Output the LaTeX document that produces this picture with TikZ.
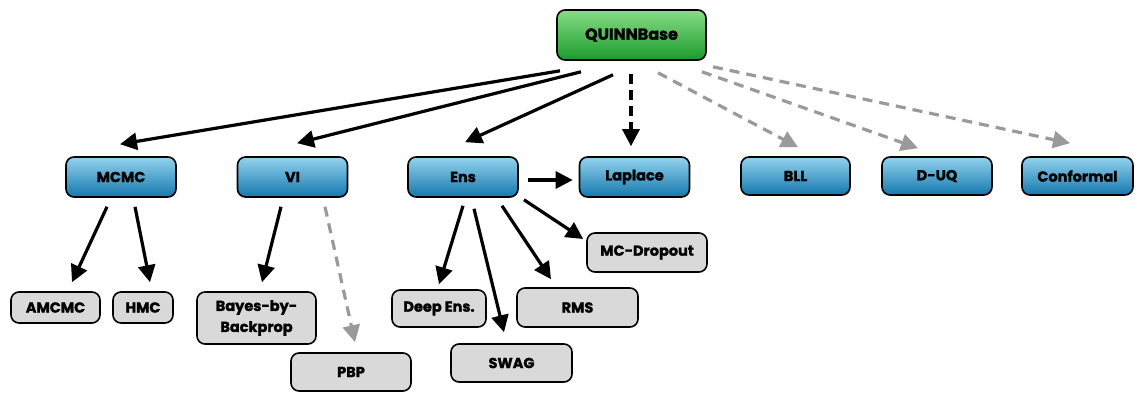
\documentclass[tikz,border=0pt]{standalone}
\usepackage{fontspec}
\setmainfont{Poppins}[BoldFeatures={FakeBold=1.6}]
\usetikzlibrary{arrows.meta,calc}
\definecolor{bluetop}{HTML}{93D3EE}
\definecolor{bluebot}{HTML}{1478AD}
\definecolor{greentop}{HTML}{86DE86}
\definecolor{greenbot}{HTML}{1C9A2C}
\definecolor{graybox}{HTML}{D9D9D9}
\definecolor{grayarrow}{HTML}{9A9A9A}
\begin{document}
\begin{tikzpicture}[x=1pt,y=-1pt,
  box/.style={draw=black,line width=1.6pt,rounded corners=8pt,inner sep=2pt,align=center,font=\fontsize{14.5}{21}\selectfont\bfseries},
  bluebox/.style={box,top color=bluetop,bottom color=bluebot,minimum width=110pt,minimum height=40pt},
  greenbox/.style={box,top color=greentop,bottom color=greenbot,minimum width=149pt,minimum height=50pt,font=\fontsize{16}{18}\selectfont\bfseries},
  leafbox/.style={box,fill=graybox},
  arr/.style={line width=3.2pt,-{Triangle[length=17pt,width=17pt]}},
  darr/.style={arr,dash pattern=on 10pt off 6pt},
  garr/.style={arr,color=grayarrow,dash pattern=on 10pt off 7pt}
]
\useasboundingbox (0,0) rectangle (1144,402);
% top
\node[greenbox] (Q) at (631.5,35) {QUINNBase};
% middle row
\node[bluebox] (MCMC) at (121,177) {MCMC};
\node[bluebox] (VI) at (292.5,177) {VI};
\node[bluebox] (Ens) at (463,177) {Ens};
\node[bluebox] (Lap) at (634.5,177) {Laplace};
\node[bluebox,minimum width=109pt,minimum height=38pt] (BLL) at (795.5,176) {BLL};
\node[bluebox,minimum height=38pt] (DUQ) at (937,176) {D-UQ};
\node[bluebox,minimum width=111pt,minimum height=38pt] (Conf) at (1077.5,176) {Conformal};
% leaves
\node[leafbox,minimum width=89pt,minimum height=31pt] (AM) at (55.5,307.5) {AMCMC};
\node[leafbox,minimum width=60pt,minimum height=31pt] (HMC) at (143,307.5) {HMC};
\node[leafbox,minimum width=119pt,minimum height=52pt] (BBB) at (256.5,318) {Bayes-by-\\Backprop};
\node[leafbox,minimum width=120pt,minimum height=38pt] (PBP) at (351,372) {PBP};
\node[leafbox,minimum width=94pt,minimum height=37pt] (DE) at (439,308.5) {Deep Ens.};
\node[leafbox,minimum width=121pt,minimum height=39pt] (RMS) at (577.5,307.5) {RMS};
\node[leafbox,minimum width=121pt,minimum height=38pt] (SWAG) at (511.5,363) {SWAG};
\node[leafbox,minimum width=120pt,minimum height=39pt] (MCD) at (647,252.5) {MC-Dropout};
% arrows from QUINNBase
\draw[arr] ([shift={(-71.5,10)}]Q.south) -- ([shift={(-1,-12)}]MCMC.north);
\draw[arr] ([shift={(-50.5,11)}]Q.south) -- ([shift={(4.5,-13)}]VI.north);
\draw[arr] ([shift={(-18.5,14)}]Q.south) -- ([shift={(2,-14)}]Ens.north);
\draw[darr] ([shift={(-0.5,13)}]Q.south) -- ([shift={(-3.5,-10)}]Lap.north);
\draw[garr] ([shift={(26.5,12)}]Q.south) -- ([shift={(2.5,-9)}]BLL.north);
\draw[garr] ([shift={(70.5,11)}]Q.south) -- ([shift={(-19,-8)}]DUQ.north);
\draw[garr] ([shift={(81.5,6)}]Q.south) -- ([shift={(-7.5,-13)}]Conf.north);
% MCMC
\draw[arr] ([shift={(-14,9)}]MCMC.south) -- ([shift={(16.5,-9)}]AM.north);
\draw[arr] ([shift={(14,9)}]MCMC.south) -- ([shift={(7,-9)}]HMC.north);
% VI
\draw[arr] ([shift={(-11.5,9)}]VI.south) -- ([shift={(5.5,-9)}]BBB.north);
\draw[garr] ([shift={(32.5,9)}]VI.south) -- ([shift={(4,-10)}]PBP.north);
% Ens
\draw[arr] ([shift={(0,8)}]Ens.south) -- ([shift={(0,-5)}]DE.north);
\draw[arr] ([shift={(11,11)}]Ens.south) -- ([shift={(-7.5,-11)}]SWAG.north);
\draw[arr] ([shift={(39,8)}]Ens.south) -- ([shift={(-26.5,-8)}]RMS.north);
\draw[arr] ([shift={(61,2)}]Ens.south) -- ([shift={(-3,-13.5)}]MCD.west);
\draw[arr] ([shift={(9,3)}]Ens.east) -- ([shift={(-6,3)}]Lap.west);
\end{tikzpicture}
\end{document}
